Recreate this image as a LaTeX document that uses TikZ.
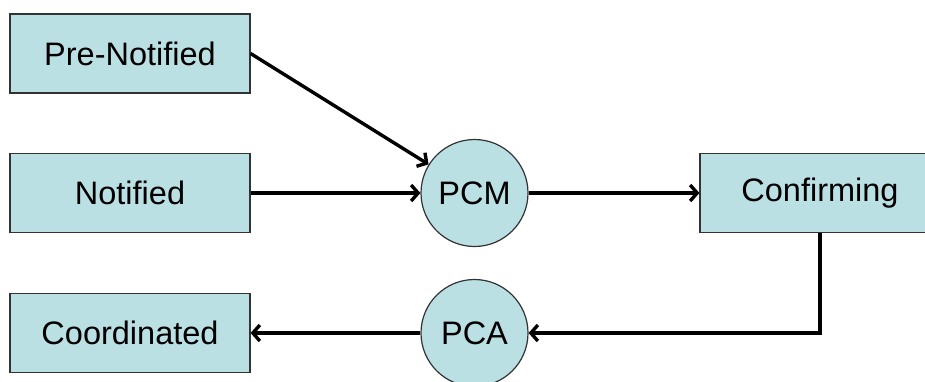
\documentclass[tikz,border=0pt]{standalone}
\usepackage{fontspec}
\setmainfont{Liberation Sans}
\usepackage{tikz}
\usetikzlibrary{arrows,arrows.meta}
\usetikzlibrary{shapes}
\usetikzlibrary{positioning}
\definecolor{statefill}{RGB}{187,224,227}
\tikzstyle{state} = [draw=black!80, line width=1.2pt, fill=statefill, rectangle,
    minimum width=240pt, minimum height=79pt, inner sep=0pt,
    font=\fontsize{32.5}{38}\selectfont]
\tikzstyle{check} = [draw=black!80, line width=1.2pt, fill=statefill, circle,
    minimum size=107pt, inner sep=0pt, font=\fontsize{32.5}{38}\selectfont]
\tikzstyle{line} = [draw, line width=3.4pt, -{Straight Barb[length=7pt,width=16pt,line width=3.4pt]}]

\begin{document}
\begin{tikzpicture}[x=1pt, y=-1pt]
    \clip (0,0) rectangle (925,381);
    % states
    \node[state] (prenot) at (130,53.5) {Pre-Notified};
    \node[state] (notif) at (130,193) {Notified};
    \node[state] (coord) at (130,333) {Coordinated};
    \node[state] (confirm) at (820,193) {Confirming};
    % checks
    \node[check] (pcm) at (474.5,193) {PCM};
    \node[check] (pca) at (474.5,333) {PCA};
    % transitions
    \path[line] (prenot.east) -- (pcm);
    \path[line] (notif) -- (pcm);
    \path[line] (pcm) -- (confirm);
    \path[line] (confirm.south) |- (pca);
    \path[line] (pca) -- (coord);
\end{tikzpicture}
\end{document}
